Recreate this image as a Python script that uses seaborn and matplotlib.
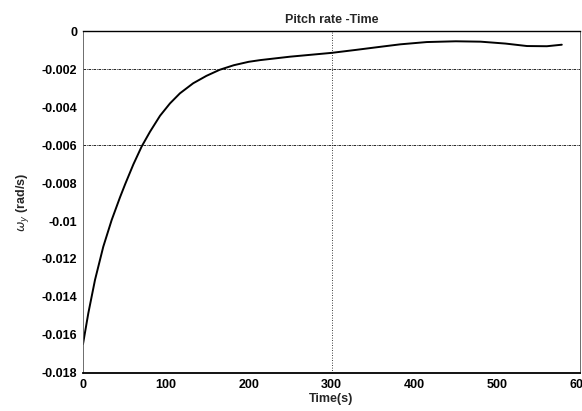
import pandas as pd
import matplotlib
matplotlib.use("Agg")
import matplotlib.pyplot as plt
import seaborn as sns

# Pitch rate
time_s = [0, 6.4, 14.5, 24.5, 34.6, 44.7, 51, 60.8, 70.8, 80.9, 93, 105, 117, 133, 149, 165,
          182, 200, 214, 250, 300, 330, 359, 383, 415, 450, 480, 510, 536, 560, 578]
pitch_rate = [-0.01648, -0.01486, -0.01310, -0.01135, -0.00995, -0.00875, -0.00805, -0.00702,
              -0.00608, -0.00530, -0.00446, -0.00381, -0.00328, -0.00275, -0.00236, -0.00204,
              -0.00180, -0.00162, -0.00153, -0.00135, -0.00115, -0.00099, -0.00083, -0.00070,
              -0.00058, -0.00054, -0.00056, -0.00066, -0.00079, -0.00080, -0.00072]

x_ticks = [0, 100, 200, 300, 400, 500, 600]
y_ticks = [-0.018, -0.016, -0.014, -0.012, -0.01, -0.008, -0.006, -0.004, -0.002, 0]
y_tick_labels = ["-0.018", "-0.016", "-0.014", "-0.012", "-0.01", "-0.008", "-0.006", "-0.004", "-0.002", "0"]
grid_y = [-0.002, -0.006]
grid_x = [300]

df = pd.DataFrame({"Time(s)": time_s, "rate": pitch_rate})

sns.set_style("white")
plt.rcParams["font.family"] = ["Liberation Sans", "DejaVu Sans"]

fig = plt.figure(figsize=(5.82, 4.11), dpi=100)
ax = fig.add_axes([0.1426, 0.0925, 0.854, 0.832])

sns.lineplot(data=df, x="Time(s)", y="rate", ax=ax, color="black", linewidth=1.4)

for gy in grid_y:
    ax.axhline(gy, color="black", linestyle=(0, (3, 1, 1, 1)), linewidth=0.6)
for gx in grid_x:
    ax.axvline(gx, color="black", linestyle=(0, (1, 2)), linewidth=0.6)

ax.set_xlim(0, 600)
ax.set_ylim(-0.018, 0)
ax.set_xticks(x_ticks)
ax.set_xticklabels([str(v) for v in x_ticks])
ax.set_yticks(y_ticks)
ax.set_yticklabels(y_tick_labels)
ax.tick_params(direction="in", length=3, labelsize=9, pad=4, colors="black")
for lab in ax.get_xticklabels() + ax.get_yticklabels():
    lab.set_fontweight("bold")

for side in ["right", "left"]:
    ax.spines[side].set_linewidth(0.6)
    ax.spines[side].set_color("#555555")
ax.spines["bottom"].set_linewidth(1.3)
ax.spines["bottom"].set_color("black")
ax.spines["top"].set_linewidth(1.0)
ax.spines["top"].set_color("black")

ax.set_title("Pitch rate -Time", fontsize=9, fontweight="bold", pad=6)
ax.set_xlabel("Time(s)", fontsize=9, fontweight="bold", labelpad=2)
ax.set_ylabel(r"$\omega_y$ (rad/s)", fontsize=9, fontweight="bold", labelpad=8)

fig.savefig("out.png", dpi=100)
